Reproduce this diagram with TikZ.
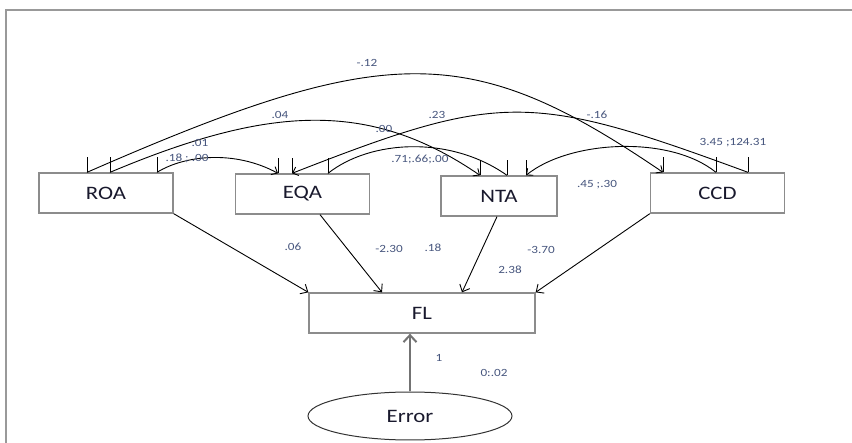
\documentclass[tikz,border=0pt]{standalone}
\usepackage{fontspec}
\setmainfont{Carlito}[FakeStretch=1.2]
\usetikzlibrary{calc,arrows.meta,shapes.geometric}
\definecolor{boxgray}{RGB}{140,140,140}
\definecolor{labelblue}{RGB}{70,85,125}
\definecolor{nametext}{RGB}{25,25,45}
\tikzset{
    varbox/.style={draw=boxgray,line width=1.3pt,minimum width=134pt,minimum height=40pt,inner sep=0pt,text=nametext,font=\fontsize{19}{19}\selectfont},
    errnode/.style={ellipse,draw=black!80,line width=1pt,minimum width=204pt,minimum height=48pt,inner sep=0pt,text=nametext,font=\fontsize{19}{19}\selectfont},
    coef/.style={text=labelblue,font=\fontsize{11}{11}\selectfont,inner sep=0pt},
    covarrow/.style={black,line width=0.9pt},
    covtip/.tip={Straight Barb[length=5pt,width=9pt]},
    regarrow/.style={black,line width=0.9pt,-{Straight Barb[length=6pt,width=11pt]}},
    tickline/.style={black,line width=0.9pt},
    errarrow/.style={black!55,line width=2pt,-{Straight Barb[length=7pt,width=13pt]}},
    outframe/.style={black!40,line width=1.5pt}
}

\begin{document}
\begin{tikzpicture}[x=1pt,y=-1pt]
\useasboundingbox (0,0) rectangle (852,443);
\draw[outframe] (852,10)--(6,10)--(6,443);

% variables
\node[varbox] (roa) at (106,193) {ROA};
\node[varbox] (eqa) at (302.5,194) {EQA};
\node[varbox,minimum width=116pt] (nta) at (499,196) {NTA};
\node[varbox] (ccd) at (717.5,193) {CCD};
\node[varbox,minimum width=226pt] (fl) at (422,313) {FL};
\node[errnode] (err) at (410,416) {Error};

% ends of the covariances
\coordinate (r1) at ([xshift=-19pt]roa.north);
\coordinate (r2) at ([xshift=4pt]roa.north);
\coordinate (r3) at ([xshift=51pt]roa.north);
\coordinate (e1) at ([xshift=-24.5pt]eqa.north);
\coordinate (e2) at ([xshift=-10.5pt]eqa.north);
\coordinate (e3) at ([xshift=25.5pt]eqa.north);
\coordinate (n1) at ([xshift=-19pt]nta.north);
\coordinate (n2) at ([xshift=8pt]nta.north);
\coordinate (n3) at ([xshift=27pt]nta.north);
\coordinate (c1) at ([xshift=-54.5pt]ccd.north);
\coordinate (c2) at ([xshift=-1.5pt]ccd.north);
\coordinate (c3) at ([xshift=30.5pt]ccd.north);
\foreach \p in {r1,r2,r3,e1,e2,e3,n1,n2,n3,c1,c2,c3}
    \draw[tickline] (\p)--++(0,-15);

\draw[covarrow,-covtip] (r1) .. controls (387,41) and (470,41) .. (c1);
\draw[covarrow,-covtip] (r2) .. controls (270,105) and (370,100) .. (n1);
\draw[covarrow,-covtip] (r3) .. controls (185,155) and (235,150) .. (e1);
\draw[covarrow] (e3) .. controls (370,140) and (450,135) .. (n2);
\draw[covarrow,covtip-] (e2) .. controls (500,92) and (530,92) .. (c3);
\draw[covarrow,covtip-] (n3) .. controls (570,140) and (670,135) .. (c2);

% paths to FL
\draw[regarrow] (roa.south east)--(fl.north west);
\draw[regarrow] ([xshift=17.5pt]eqa.south)--([xshift=-40pt]fl.north);
\draw[regarrow] ([xshift=-2pt]nta.south)--([xshift=40pt]fl.north);
\draw[regarrow] (ccd.south west)--(fl.north east);
\draw[errarrow] (err.north)--(err.north |- fl.south);

% estimates
\node[coef] (k1) at (367,63) {-.12};
\node[coef] (k2) at (280,115) {.04};
\node[coef] (k3) at (384,129) {.00};
\node[coef] (k4) at (200,143) {.01};
\node[coef] (k5) at (187,158) {.18 ; .00};
\node[coef] (k6) at (420,159) {.71;.66;.00};
\node[coef] (k7) at (437,115) {.23};
\node[coef] (k8) at (597,115) {-.16};
\node[coef] (k9) at (733,143) {3.45 ;124.31};
\node[coef] (k10) at (597,185) {.45 ;.30};
\node[coef] (k11) at (293,247) {.06};
\node[coef] (k12) at (389,249) {-2.30};
\node[coef] (k13) at (433,248) {.18};
\node[coef] (k14) at (541,250) {-3.70};
\node[coef] (k15) at (510,270) {2.38};
\node[coef] (k16) at (439,358) {1};
\node[coef] (k17) at (494,373) {0:.02};

\end{tikzpicture}
\end{document}
